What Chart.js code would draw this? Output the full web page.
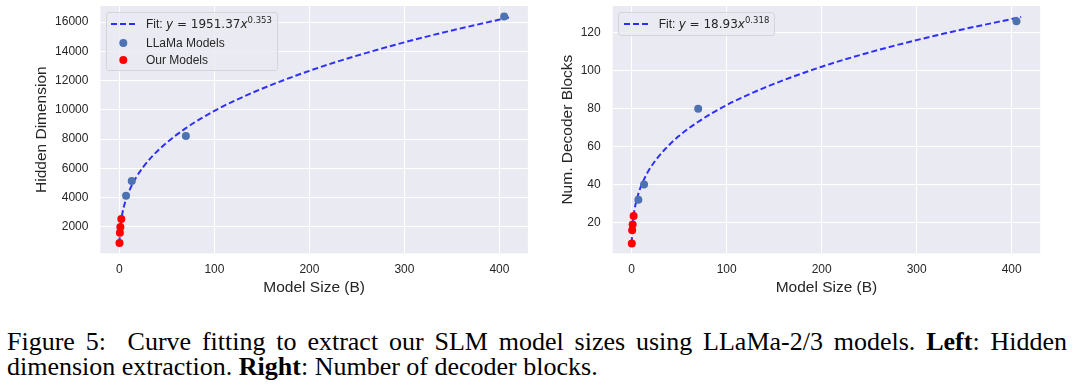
<!DOCTYPE html>
<html>
<head>
<meta charset="utf-8">
<script src="https://cdn.jsdelivr.net/npm/chart.js@4.4.1/dist/chart.umd.min.js"></script>
<style>
  body { margin: 0; background: #fff; width: 1080px; height: 386px; position: relative; overflow: hidden; }
  canvas { position: absolute; top: 0; }
  .legend { position: absolute; box-sizing: border-box; border: 1px solid #d4d4da; border-radius: 3px;
            background: rgba(234,234,242,0.8); font-family: "Liberation Sans", Arial, sans-serif;
            font-size: 12px; color: #262626; }
  .item { position: absolute; left: 0; height: 16px; width: 100%; }
  .item svg { position: absolute; top: 0; }
  .item span.txt { position: absolute; top: 0; line-height: 16px; white-space: nowrap; }
  .math { font-family: "DejaVu Sans", sans-serif; font-size: 12px; }
  .math sup { font-size: 8.5px; vertical-align: 5px; line-height: 0; }
  .cap { position: absolute; left: 7px; width: 1060px; font-family: "Liberation Serif", "Times New Roman", serif;
         font-size: 26px; line-height: 26px; color: #000; white-space: nowrap; }
</style>
</head>
<body>
<canvas id="leftChart" width="540" height="300" style="left:0"></canvas>
<canvas id="rightChart" width="540" height="300" style="left:540px"></canvas>

<div class="legend" style="left:105.7px; top:11.7px; width:172px; height:59px;">
  <div class="item" style="top:3.6px">
    <svg width="30" height="16" style="left:4.3px"><line x1="0" y1="8" x2="24" y2="8" stroke="rgba(0,0,255,0.8)" stroke-width="2" stroke-dasharray="6 3"/></svg>
    <span class="txt" style="left:39.3px">Fit: <span class="math"><i>y</i> = 1951.37<i>x</i><sup>0.353</sup></span></span>
  </div>
  <div class="item" style="top:22.3px">
    <svg width="30" height="16" style="left:4.3px"><circle cx="12.3" cy="8" r="4" fill="#4c72b0"/></svg>
    <span class="txt" style="left:39.3px">LLaMa Models</span>
  </div>
  <div class="item" style="top:39.6px">
    <svg width="30" height="16" style="left:4.3px"><circle cx="12.3" cy="8" r="4" fill="#ff0000"/></svg>
    <span class="txt" style="left:39.3px">Our Models</span>
  </div>
</div>

<div class="legend" style="left:617.9px; top:11.7px; width:157.5px; height:24px;">
  <div class="item" style="top:3.6px">
    <svg width="30" height="16" style="left:5.1px"><line x1="0" y1="8" x2="25" y2="8" stroke="rgba(0,0,255,0.8)" stroke-width="2" stroke-dasharray="6 3"/></svg>
    <span class="txt" style="left:39.8px">Fit: <span class="math"><i>y</i> = 18.93<i>x</i><sup>0.318</sup></span></span>
  </div>
</div>

<div class="cap" style="top:329px; text-align:justify; text-align-last:justify; white-space:normal;">Figure 5:&nbsp; Curve fitting to extract our SLM model sizes using LLaMa-2/3 models. <b>Left</b>: Hidden</div>
<div class="cap" style="top:354px;">dimension extraction. <b>Right</b>: Number of decoder blocks.</div>

<script>
// модели LLaMa (размер в B)
var llamaSize = [7, 13, 70, 405];
var llamaHidden = [4110, 5130, 8210, 16384];
var llamaBlocks = [32, 40, 80, 126];

// наши модели
var ourSize = [0.1, 0.5, 1, 2];
var ourHidden = [880, 1580, 1980, 2520];
var ourBlocks = [9, 16, 19, 23.5];

// точки кривой аппроксимации
var fitSize = [0.1, 0.3, 0.6, 1, 2, 3, 5, 8, 12, 18, 25, 35, 50, 70, 100, 140, 200, 260, 330, 410];
var fitHidden = [866, 1276, 1630, 1951, 2492, 2876, 3444, 4066, 4691, 5413, 6079, 6846, 7764, 8742, 9927, 11166, 12665, 13893, 15114, 16319];
var fitBlocks = [9.1, 12.9, 16.1, 18.9, 23.6, 26.9, 31.6, 36.7, 41.7, 47.5, 52.7, 58.6, 65.7, 73.1, 81.9, 91.1, 102.1, 111.0, 119.7, 128.3];

// подписи делений
var xTicks = [0, 100, 200, 300, 400];
var hiddenTicks = [2000, 4000, 6000, 8000, 10000, 12000, 14000, 16000];
var blocksTicks = [20, 40, 60, 80, 100, 120];

var sansFont = '"Liberation Sans", Arial, sans-serif';
var textColor = '#262626';

function toPoints(xs, ys) {
  return xs.map(function(x, i) { return { x: x, y: ys[i] }; });
}

// фон области графика как в seaborn darkgrid
var plotBg = {
  id: 'plotBg',
  beforeDraw: function(chart) {
    var a = chart.chartArea;
    chart.ctx.save();
    chart.ctx.fillStyle = '#eaeaf2';
    chart.ctx.fillRect(a.left, a.top, a.right - a.left, a.bottom - a.top);
    chart.ctx.restore();
  }
};

function makeChart(el, cfg) {
  return new Chart(el, {
    type: 'scatter',
    data: {
      datasets: [
        {
          label: 'Fit',
          data: toPoints(fitSize, cfg.fit),
          showLine: true,
          borderColor: 'rgba(0,0,255,0.8)',
          borderWidth: 2,
          borderDash: [6, 3],
          pointRadius: 0,
          cubicInterpolationMode: 'monotone',
          order: 3
        },
        {
          label: 'LLaMa Models',
          data: toPoints(llamaSize, cfg.llama),
          backgroundColor: '#4c72b0',
          pointRadius: 4,
          borderWidth: 0,
          order: 2
        },
        {
          label: 'Our Models',
          data: toPoints(ourSize, cfg.ours),
          backgroundColor: '#ff0000',
          pointRadius: 4,
          borderWidth: 0,
          order: 1
        }
      ]
    },
    options: {
      responsive: false,
      animation: false,
      devicePixelRatio: 1,
      layout: { padding: { left: 0, top: 6, right: cfg.padRight, bottom: 0 } },
      plugins: { legend: { display: false }, tooltip: { enabled: false } },
      scales: {
        x: {
          type: 'linear',
          min: -20,
          max: 430,
          afterBuildTicks: function(s) { s.ticks = xTicks.map(function(v) { return { value: v }; }); },
          afterFit: function(s) { s.height = 46.7; s.paddingLeft = 0; s.paddingRight = 0; },
          grid: { color: '#ffffff', lineWidth: 1, drawTicks: false },
          border: { display: false },
          ticks: { padding: 9, color: textColor, font: { family: sansFont, size: 12 }, callback: function(v) { return String(v); } },
          title: { display: true, text: 'Model Size (B)', color: textColor, font: { family: sansFont, size: 15.5 }, padding: { top: 0, bottom: 3.4 } }
        },
        y: {
          type: 'linear',
          min: cfg.yMin,
          max: cfg.yMax,
          afterBuildTicks: function(s) { s.ticks = cfg.yTicks.map(function(v) { return { value: v }; }); },
          afterFit: function(s) { s.width = cfg.yWidth; s.paddingTop = 0; s.paddingBottom = 0; },
          grid: { color: '#ffffff', lineWidth: 1, drawTicks: false },
          border: { display: false },
          ticks: { padding: 12, color: textColor, font: { family: sansFont, size: 12 }, callback: function(v) { return String(v); } },
          title: { display: true, text: cfg.yTitle, color: textColor, font: { family: sansFont, size: 15.5 }, padding: { top: cfg.yTitlePad, bottom: 0 } }
        }
      }
    },
    plugins: [plotBg]
  });
}

makeChart(document.getElementById('leftChart'), {
  fit: fitHidden, llama: llamaHidden, ours: ourHidden,
  yMin: 180, yMax: 17100, yTicks: hiddenTicks, yTitle: 'Hidden Dimension',
  yWidth: 100.4, yTitlePad: 32.2, padRight: 12.1
});

makeChart(document.getElementById('rightChart'), {
  fit: fitBlocks, llama: llamaBlocks, ours: ourBlocks,
  yMin: 3.8, yMax: 134.1, yTicks: blocksTicks, yTitle: 'Num. Decoder Blocks',
  yWidth: 72.7, yTitlePad: 18.4, padRight: 39.8
});
</script>
</body>
</html>
